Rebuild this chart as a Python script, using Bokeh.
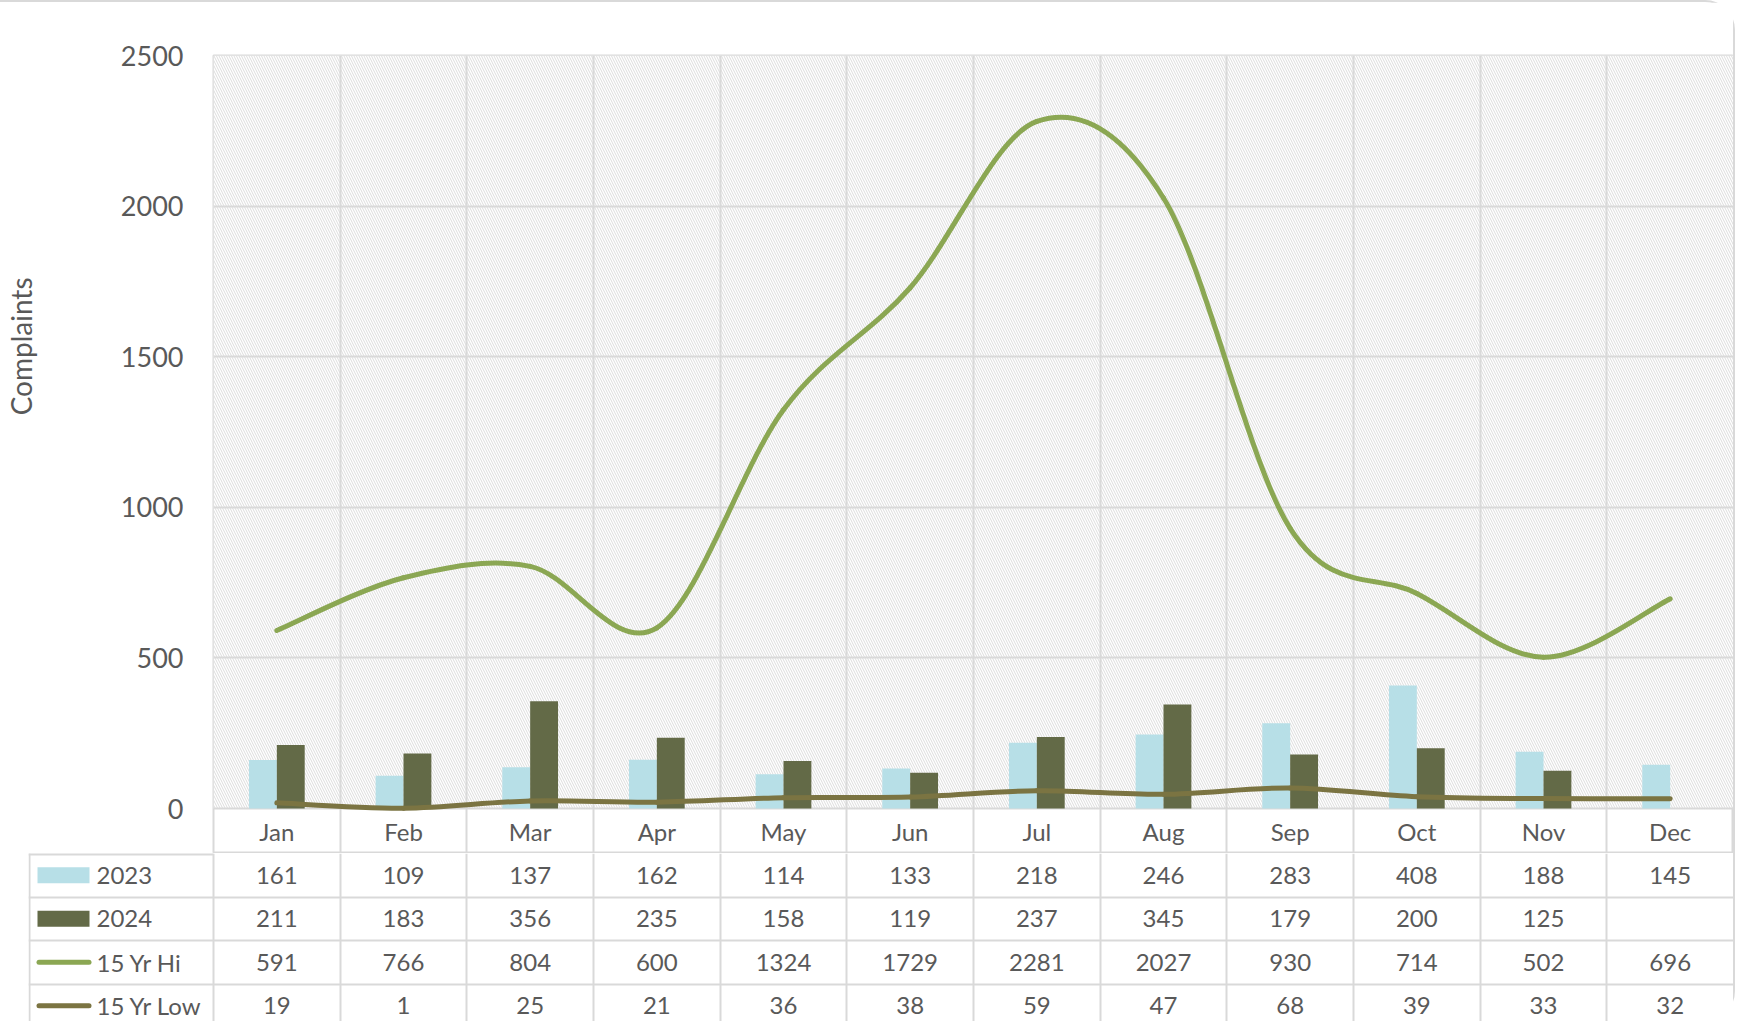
from bokeh.plotting import figure
from bokeh.models import ColumnDataSource, FixedTicker, BoxAnnotation, Range1d, Title
from bokeh.layouts import column
from bokeh.transform import dodge
from bokeh.core.properties import value
from bokeh.embed import file_html
from bokeh.resources import INLINE

# ---------------- data ----------------
months = ["Jan", "Feb", "Mar", "Apr", "May", "Jun", "Jul", "Aug", "Sep", "Oct", "Nov", "Dec"]
y2023 = [161, 109, 137, 162, 114, 133, 218, 246, 283, 408, 188, 145]
y2024 = [211, 183, 356, 235, 158, 119, 237, 345, 179, 200, 125, None]
hi15 = [591, 766, 804, 600, 1324, 1729, 2281, 2027, 930, 714, 502, 696]
low15 = [19, 1, 25, 21, 36, 38, 59, 47, 68, 39, 33, 32]
y_ticks = [0, 500, 1000, 1500, 2000, 2500]
series_names = ["2023", "2024", "15 Yr Hi", "15 Yr Low"]

# ---------------- style ----------------
FONT = "Lato"
TXT = "#595959"
GRID = "#d9d9d9"
C23 = "#b7dfe7"
C24 = "#636a47"
CHI = "#8ba753"
CLO = "#7b7442"

W = 1733
LEFT = 213          # left border of the chart figure
TLEFT = 28          # left border of the table figure
TOPB = 53
FRAME_H = 753       # height of 0..2500
MROW = 45           # month-label row
ROW = 43.5          # data-table rows
BOT_H = 168
COLW = (W - LEFT) / len(months)
YMIN = -MROW * 2500.0 / FRAME_H   # month-label row below zero

x = list(range(len(months)))
nan = float("nan")
y2024_num = [nan if v is None else v for v in y2024]

# ---------------- chart ----------------
top = figure(width=W, height=TOPB + FRAME_H + MROW,
             x_range=Range1d(-0.5, len(months) - 0.5), y_range=Range1d(YMIN, 2500),
             x_axis_location=None, output_backend="svg", toolbar_location=None,
             min_border_left=LEFT, min_border_right=0, min_border_top=TOPB, min_border_bottom=0)
top.frame_align = False
top.border_fill_color = "white"
top.background_fill_color = "white"
top.outline_line_color = GRID
top.outline_line_width = 2

hatch = BoxAnnotation(bottom=0, level="image", fill_color="white", fill_alpha=1.0, line_alpha=0,
                      hatch_pattern="\\", hatch_color="#dcdcdc", hatch_scale=5, hatch_weight=1.0)
top.add_layout(hatch)

top.ygrid.ticker = FixedTicker(ticks=y_ticks[:-1])
top.xgrid.ticker = FixedTicker(ticks=[i + 0.5 for i in x[:-1]])
for g in (top.xgrid[0], top.ygrid[0]):
    g.grid_line_color = GRID
    g.grid_line_width = 2

ax = top.yaxis[0]
ax.ticker = FixedTicker(ticks=y_ticks)
ax.axis_line_color = None
ax.major_tick_line_color = None
ax.minor_tick_line_color = None
ax.major_tick_out = 0
ax.major_tick_in = 0
ax.major_label_standoff = 30
ax.major_label_text_font = FONT
ax.major_label_text_font_size = "27px"
ax.major_label_text_color = TXT
# invisible spacer between tick labels and the title
ax.axis_label = " "
ax.axis_label_text_font_size = "1px"
ax.axis_label_standoff = 76

ttl = Title(text="Complaints", align="right", offset=222, standoff=0, vertical_align="bottom",
            text_font=FONT, text_font_size="28px", text_font_style="normal", text_color=TXT)
top.add_layout(ttl, "left")

src = ColumnDataSource(dict(x=x, y2023=y2023, y2024=y2024_num))
top.vbar(x=dodge("x", -0.11), top="y2023", width=0.22, source=src,
         fill_color=C23, line_color=None)
top.vbar(x=dodge("x", 0.11), top="y2024", width=0.22, source=src,
         fill_color=C24, line_color=None)


def smooth(xs, ys):
    n = len(xs)
    out = dict(x0=[], y0=[], x1=[], y1=[], cx0=[], cy0=[], cx1=[], cy1=[])
    for i in range(n - 1):
        im1 = max(i - 1, 0)
        ip2 = min(i + 2, n - 1)
        out["x0"].append(xs[i]); out["y0"].append(ys[i])
        out["x1"].append(xs[i + 1]); out["y1"].append(ys[i + 1])
        out["cx0"].append(xs[i] + (xs[i + 1] - xs[im1]) / 6)
        out["cy0"].append(ys[i] + (ys[i + 1] - ys[im1]) / 6)
        out["cx1"].append(xs[i + 1] - (xs[ip2] - xs[i]) / 6)
        out["cy1"].append(ys[i + 1] - (ys[ip2] - ys[i]) / 6)
    return ColumnDataSource(out)


for vals, col in ((low15, CLO), (hi15, CHI)):
    top.bezier(x0="x0", y0="y0", x1="x1", y1="y1", cx0="cx0", cy0="cy0", cx1="cx1", cy1="cy1",
               source=smooth(x, vals), line_color=col, line_width=5, line_cap="round")

tfont = dict(text_font=value(FONT), text_font_size="24px", text_color=TXT,
             text_baseline="middle")

# month labels (category row of the data table)
top.text(x=x, y=[YMIN / 2] * len(x), text=months, text_align="center", **tfont)

# ---------------- data table ----------------
XS = -0.5 - (LEFT - TLEFT) / COLW
YB = BOT_H / ROW
bot = figure(width=W, height=BOT_H,
             x_range=Range1d(XS, len(months) - 0.5), y_range=Range1d(YB, 0),
             x_axis_location=None, y_axis_location=None,
             output_backend="svg", toolbar_location=None,
             min_border_left=TLEFT, min_border_right=0, min_border_top=0, min_border_bottom=0)
bot.frame_align = False
bot.border_fill_color = "white"
bot.background_fill_color = "white"
bot.outline_line_color = None
bot.xgrid.ticker = FixedTicker(ticks=[i - 0.5 for i in x] + [len(months) - 0.5])
bot.ygrid.ticker = FixedTicker(ticks=[1, 2, 3])
for g in (bot.xgrid[0], bot.ygrid[0]):
    g.grid_line_color = GRID
    g.grid_line_width = 2

left_edge = XS + 1.0 / COLW
bot.segment(x0=[left_edge], y0=[0], x1=[left_edge], y1=[YB], line_color=GRID, line_width=2)
bot.segment(x0=[XS], y0=[0], x1=[-0.5], y1=[0], line_color=GRID, line_width=4)

rows = [y2023, y2024, hi15, low15]
for r, vals in enumerate(rows):
    yy = r + 0.5
    txt = ["" if v is None else str(v) for v in vals]
    bot.text(x=x, y=[yy] * len(x), text=txt, text_align="center", **tfont)

# legend keys and series names
kx = XS + 35.0 / COLW
bot.rect(x=[kx, kx], y=[0.5, 1.5], width=52, height=16, width_units="screen",
         height_units="screen", fill_color=[C23, C24], line_color=None)
bot.segment(x0=[XS + 10.5 / COLW] * 2, y0=[2.5, 3.5], x1=[XS + 60.5 / COLW] * 2, y1=[2.5, 3.5],
            line_color=[CHI, CLO], line_width=5, line_cap="round")
bot.text(x=[XS + 68.0 / COLW] * 4, y=[0.5, 1.5, 2.5, 3.5], text=series_names,
         text_align="left", **tfont)

layout = column(top, bot, styles={
    "border-top": "2px solid #d9d9d9",
    "border-right": "2px solid #d9d9d9",
    "border-top-right-radius": "30px",
    "border-bottom-right-radius": "30px",
})

open("out.html", "w").write(file_html(layout, INLINE))
